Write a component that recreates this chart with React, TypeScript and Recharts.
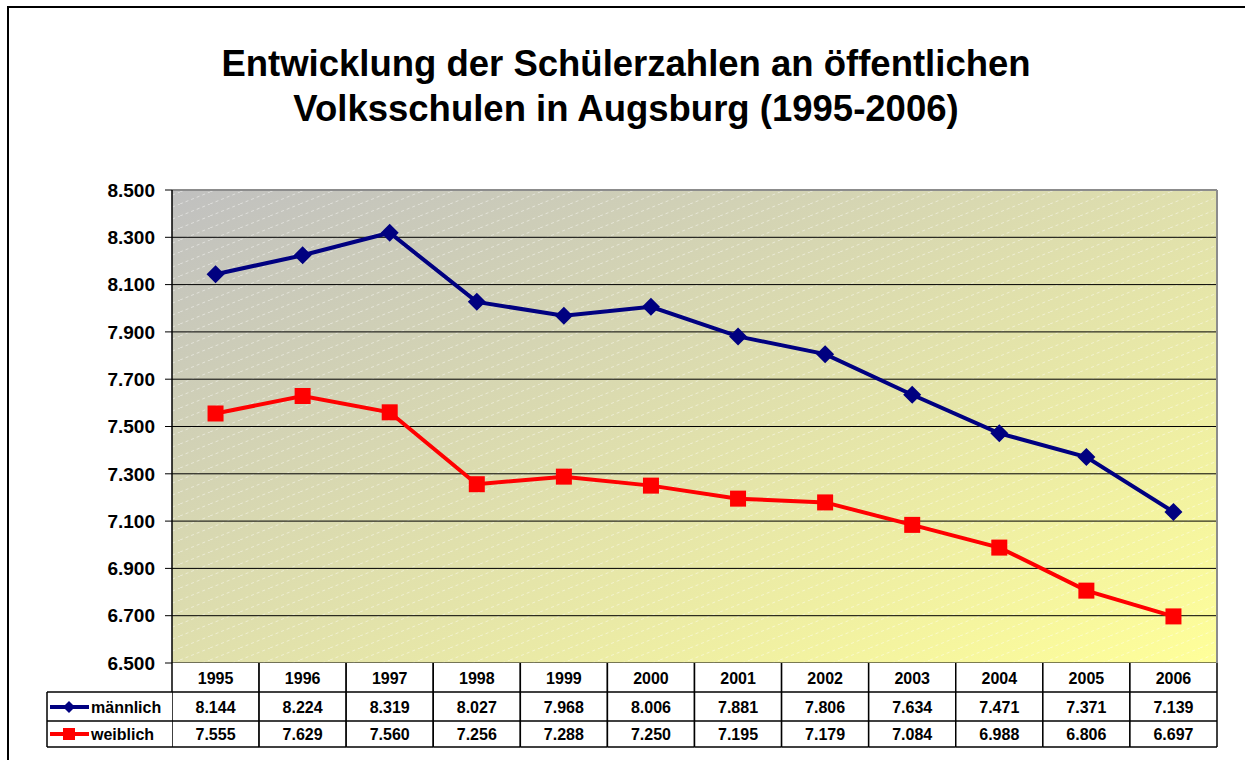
import { LineChart, Line, XAxis, YAxis, CartesianGrid, ReferenceLine } from "recharts";

const years = ["1995", "1996", "1997", "1998", "1999", "2000", "2001", "2002", "2003", "2004", "2005", "2006"];
const maennlich = [8144, 8224, 8319, 8027, 7968, 8006, 7881, 7806, 7634, 7471, 7371, 7139];
const weiblich = [7555, 7629, 7560, 7256, 7288, 7250, 7195, 7179, 7084, 6988, 6806, 6697];
const yTicks = [6500, 6700, 6900, 7100, 7300, 7500, 7700, 7900, 8100, 8300, 8500];
const seriesNames = ["männlich", "weiblich"];

const data = years.map((y, i) => ({ year: y, m: maennlich[i], w: weiblich[i] }));

const FONT = "'Liberation Sans', Arial, sans-serif";
const W = 1245;
const H = 760;
const MARGIN = { top: 190, right: 27, bottom: 0, left: 112 };
const Y_AXIS_W = 60;
const PLOT_W = W - MARGIN.left - Y_AXIS_W - MARGIN.right - 1;
const CELL_W = PLOT_W / years.length;
const ROW_H = [29, 29, 26];
const LEGEND_COL_W = 125;

const fmt = (v: number) => {
  const t = Math.floor(v / 1000);
  const r = String(v % 1000).padStart(3, "0");
  return `${t}.${r}`;
};

const Diamond = ({ cx, cy, size = 9 }: any) => (
  <path d={`M${cx},${cy - size} L${cx + size},${cy} L${cx},${cy + size} L${cx - size},${cy} Z`} fill="#000080" />
);

const Square = ({ cx, cy, size = 8 }: any) => (
  <rect x={cx - size} y={cy - size} width={size * 2} height={size * 2} fill="#ff0000" />
);

const TableTick = (props: any) => {
  const { x, y, payload, index } = props;
  const left = x - CELL_W / 2;
  const r1 = y + ROW_H[0];
  const r2 = r1 + ROW_H[1];
  const r3 = r2 + ROW_H[2];
  const txt = { fontFamily: FONT, fontSize: 16, fontWeight: 700, fill: "#000", textAnchor: "middle" as const };
  return (
    <g>
      <rect x={left} y={y} width={CELL_W} height={r3 - y} fill="#fff" />
      <line x1={left} y1={r1} x2={left + CELL_W} y2={r1} stroke="#000" strokeWidth={1.5} />
      <line x1={left} y1={r2} x2={left + CELL_W} y2={r2} stroke="#000" strokeWidth={1.5} />
      <line x1={left} y1={r3} x2={left + CELL_W} y2={r3} stroke="#000" strokeWidth={1.5} />
      <line x1={left} y1={y} x2={left} y2={r3} stroke="#000" strokeWidth={1.5} />
      <line x1={left + CELL_W} y1={y} x2={left + CELL_W} y2={r3} stroke="#000" strokeWidth={1.5} />
      <text {...txt} x={x} y={y + 21}>{payload.value}</text>
      <text {...txt} x={x} y={r1 + 21}>{fmt(maennlich[index])}</text>
      <text {...txt} x={x} y={r2 + 19}>{fmt(weiblich[index])}</text>
      {index === 0 && (
        <g>
          <rect x={left - LEGEND_COL_W} y={r1} width={LEGEND_COL_W} height={r3 - r1} fill="#fff" />
          <line x1={left - LEGEND_COL_W} y1={r1} x2={left} y2={r1} stroke="#000" strokeWidth={1.5} />
          <line x1={left - LEGEND_COL_W} y1={r2} x2={left} y2={r2} stroke="#000" strokeWidth={1.5} />
          <line x1={left - LEGEND_COL_W} y1={r3} x2={left} y2={r3} stroke="#000" strokeWidth={1.5} />
          <line x1={left - LEGEND_COL_W} y1={r1} x2={left - LEGEND_COL_W} y2={r3} stroke="#000" strokeWidth={1.5} />
          <line x1={left - LEGEND_COL_W + 3} y1={r1 + 15} x2={left - LEGEND_COL_W + 42} y2={r1 + 15} stroke="#000080" strokeWidth={4} />
          <Diamond cx={left - LEGEND_COL_W + 22} cy={r1 + 15} size={6} />
          <line x1={left - LEGEND_COL_W + 3} y1={r2 + 13} x2={left - LEGEND_COL_W + 42} y2={r2 + 13} stroke="#ff0000" strokeWidth={4} />
          <Square cx={left - LEGEND_COL_W + 22} cy={r2 + 13} size={6} />
          <text {...txt} textAnchor="start" x={left - LEGEND_COL_W + 44} y={r1 + 21}>{seriesNames[0]}</text>
          <text {...txt} textAnchor="start" x={left - LEGEND_COL_W + 44} y={r2 + 19}>{seriesNames[1]}</text>
        </g>
      )}
    </g>
  );
};

export default function App() {
  return (
    <div style={{ position: "absolute", left: 0, top: 0, width: W, height: H, background: "#fff", overflow: "hidden" }}>
      <svg width={0} height={0} style={{ position: "absolute" }}>
        <defs>
          <linearGradient id="plotBg" x1="0" y1="0" x2="1" y2="1">
            <stop offset="0%" stopColor="#c0c0c0" />
            <stop offset="100%" stopColor="#ffff99" />
          </linearGradient>
          <pattern id="hatch" patternUnits="userSpaceOnUse" width={30} height={12}>
            <line x1={0} y1={12} x2={30} y2={0} stroke="#ffffff" strokeOpacity={0.45} strokeWidth={1} strokeDasharray="3 3" />
          </pattern>
        </defs>
      </svg>
      <div
        style={{
          position: "absolute",
          left: 7,
          top: 6,
          width: W,
          height: H,
          borderLeft: "2px solid #000",
          borderTop: "2px solid #000",
        }}
      />
      <div
        style={{
          position: "absolute",
          left: 0,
          top: 41,
          width: 1252,
          textAlign: "center",
          fontFamily: FONT,
          fontWeight: 700,
          fontSize: 36.5,
          lineHeight: "45px",
          color: "#000",
        }}
      >
        Entwicklung der Schülerzahlen an öffentlichen
        <br />
        Volksschulen in Augsburg (1995-2006)
      </div>
      <div style={{ position: "absolute", left: 0, top: 0 }}>
        <LineChart width={W} height={H} data={data} margin={MARGIN}>
          <CartesianGrid fill="url(#plotBg)" stroke="none" vertical={false} horizontal={false} />
          <CartesianGrid fill="url(#hatch)" fillOpacity={1} stroke="#000" strokeWidth={1} vertical={false} />
          <XAxis
            dataKey="year"
            scale="band"
            height={97}
            interval={0}
            axisLine={false}
            tickLine={false}
            tickSize={0}
            tickMargin={0}
            tick={<TableTick />}
          />
          <YAxis
            width={Y_AXIS_W}
            domain={[6500, 8500]}
            ticks={yTicks}
            interval={0}
            tickFormatter={fmt}
            tickSize={7}
            tickMargin={10}
            axisLine={{ stroke: "#000", strokeWidth: 1.5 }}
            tickLine={{ stroke: "#000", strokeWidth: 1 }}
            tick={{ fontFamily: FONT, fontSize: 19, fontWeight: 700, fill: "#000" }}
          />
          <YAxis
            yAxisId="right"
            orientation="right"
            width={1}
            domain={[6500, 8500]}
            tick={false}
            tickLine={false}
            axisLine={{ stroke: "#8c8c8c", strokeWidth: 2 }}
          />
          <ReferenceLine y={8500} stroke="#8c8c8c" strokeWidth={2} />
          <Line
            dataKey="m"
            name={seriesNames[0]}
            stroke="#000080"
            strokeWidth={4}
            isAnimationActive={false}
            dot={(p: any) => <Diamond key={`m${p.index}`} cx={p.cx} cy={p.cy} />}
            activeDot={false}
          />
          <Line
            dataKey="w"
            name={seriesNames[1]}
            stroke="#ff0000"
            strokeWidth={4}
            isAnimationActive={false}
            dot={(p: any) => <Square key={`w${p.index}`} cx={p.cx} cy={p.cy} />}
            activeDot={false}
          />
        </LineChart>
      </div>
    </div>
  );
}
